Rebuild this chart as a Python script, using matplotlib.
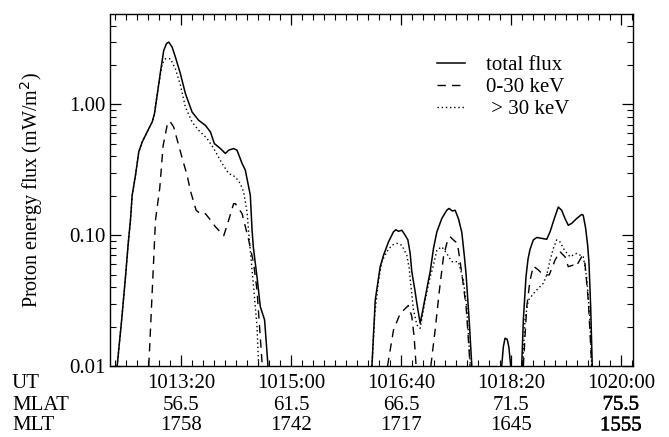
import numpy as np
import matplotlib
matplotlib.use('Agg')
import matplotlib.pyplot as plt
import matplotlib.patheffects as pe
from matplotlib.ticker import FixedLocator, MultipleLocator, LogLocator, NullFormatter

plt.rcParams['font.family'] = ['Liberation Serif', 'DejaVu Serif']
plt.rcParams['lines.scale_dashes'] = False

nan = np.nan

# time in seconds after 10:00:00 UT, nan breaks the curve between events
t_total = [741.5, 745.5, 749.1, 751.5, 753.6, 755.2, 758.2, 761.2, 764.3, 768.8, 773.4,
           775.5, 777.9, 780.9, 783.9, 786.4, 788.5, 791.5, 794.5, 799.1, 803.6, 809.7,
           815.7, 821.8, 826.4, 830.0, 835.5, 840.0, 843.0, 847.5, 850.6, 855.2, 858.2,
           860.3, 862.7, 864.3, 865.5, 868.8, 871.8, 875.7, 878.8, nan,
           973.4, 976.4, 980.9, 983.9, 988.5, 993.0, 995.2, 997.5, 1000.6, 1003.6, 1006.1,
           1008.2, 1009.7, 1012.5, 1014.3, 1017.3, 1020.3, 1024.8, 1026.4, 1029.4, 1032.5,
           1037.0, 1041.5, 1043.6, 1046.6, 1049.1, 1052.1, 1055.2, 1057.6, 1059.1, 1062.1,
           1064.3, nan,
           1091.5, 1093.0, 1094.5, 1096.5, 1098.0, 1099.7, nan,
           1109.7, 1111.2, 1113.6, 1115.5, 1117.3, 1120.3, 1123.4, 1127.9, 1132.5, 1135.5,
           1139.4, 1143.0, 1146.1, 1149.1, 1152.1, 1155.2, 1159.7, 1164.3, 1165.7, 1167.9,
           1169.7, 1170.9, 1172.5, 1173.9]
f_total = [0.010, 0.022, 0.048, 0.085, 0.130, 0.202, 0.287, 0.433, 0.515, 0.615, 0.733,
           0.849, 1.17, 1.76, 2.58, 2.91, 2.99, 2.74, 2.30, 1.71, 1.21, 0.873,
           0.755, 0.691, 0.615, 0.501, 0.459, 0.421, 0.446, 0.459, 0.446, 0.353, 0.313,
           0.255, 0.202, 0.109, 0.080, 0.048, 0.0284, 0.0225, 0.010, nan,
           0.010, 0.0318, 0.0574, 0.070, 0.089, 0.106, 0.110, 0.107, 0.109, 0.100, 0.092,
           0.0725, 0.0525, 0.038, 0.030, 0.0212, 0.0284, 0.045, 0.0525, 0.0791, 0.106,
           0.134, 0.155, 0.160, 0.153, 0.155, 0.134, 0.105, 0.068, 0.050, 0.021,
           0.010, nan,
           0.010, 0.014, 0.0163, 0.016, 0.014, 0.010, nan,
           0.010, 0.0225, 0.048, 0.066, 0.078, 0.092, 0.096, 0.0945, 0.093, 0.106,
           0.134, 0.164, 0.155, 0.134, 0.119, 0.123, 0.134, 0.144, 0.142, 0.113,
           0.0838, 0.0627, 0.028, 0.010]

t_low = [770.3, 776.4, 780.3, 783.4, 787.0, 789.4, 793.0, 797.5, 802.1, 805.2, 808.2,
         813.4, 817.5, 821.8, 826.0, 830.9, 838.5, 843.0, 847.5, 849.1, 855.2, 861.2,
         865.7, 868.8, 873.6, nan,
         987.6, 993.0, 999.1, 1006.6, 1009.7, 1011.8, 1013.6, nan,
         1027.0, 1030.9, 1034.8, 1038.5, 1041.5, 1044.5, 1047.5, 1051.2, 1055.2, 1059.1,
         1061.2, 1062.7, nan,
         1111.2, 1114.3, 1117.3, 1120.3, 1124.8, 1129.4, 1134.8, 1140.0, 1144.5, 1146.1,
         1149.1, 1152.1, 1156.6, 1159.1, 1164.3, 1167.3, 1170.3, 1172.5, 1173.4]
f_low = [0.010, 0.130, 0.230, 0.486, 0.690, 0.745, 0.670, 0.486, 0.352, 0.287, 0.218,
         0.155, 0.145, 0.146, 0.132, 0.116, 0.099, 0.130, 0.174, 0.174, 0.146, 0.092,
         0.061, 0.038, 0.010, nan,
         0.010, 0.0188, 0.0252, 0.029, 0.0239, 0.0167, 0.010, nan,
         0.010, 0.0188, 0.0379, 0.068, 0.0866, 0.0973, 0.092, 0.0866, 0.051, 0.0284,
         0.0158, 0.010, nan,
         0.010, 0.0284, 0.0452, 0.058, 0.0542, 0.0497, 0.0497, 0.0643, 0.075, 0.0725,
         0.0684, 0.0574, 0.059, 0.0574, 0.0684, 0.0606, 0.0318, 0.0141, 0.010]

t_high = [741.5, 745.5, 749.1, 751.5, 753.6, 755.2, 758.2, 761.2, 764.3, 768.8, 773.4,
          775.5, 777.9, 780.9, 782.5, 785.5, 790.0, 794.5, 799.1, 803.6, 809.7, 815.7,
          823.4, 829.4, 837.0, 843.0, 849.1, 853.6, 856.6, 859.7, 861.8, 865.7, 868.8,
          870.3, nan,
          973.4, 976.0, 979.4, 982.4, 987.0, 991.5, 996.1, 1000.6, 1005.2, 1007.3, 1009.0,
          1011.2, 1014.3, 1017.3, 1021.8, 1026.4, 1029.4, 1032.5, 1037.0, 1041.5, 1046.1,
          1052.1, 1056.6, 1059.7, 1062.1, 1063.0, nan,
          1110.6, 1112.7, 1115.7, 1121.8, 1129.4, 1132.5, 1135.5, 1138.5, 1141.5, 1144.5,
          1148.5, 1153.6, 1159.7, 1165.7, 1168.8, 1171.8, 1173.4]
f_high = [0.010, 0.022, 0.048, 0.085, 0.130, 0.202, 0.287, 0.433, 0.515, 0.615, 0.733,
          0.849, 1.20, 1.70, 2.04, 2.23, 2.23, 1.87, 1.40, 0.954, 0.733, 0.633,
          0.547, 0.459, 0.353, 0.296, 0.279, 0.248, 0.214, 0.151, 0.092, 0.040, 0.020,
          0.010, nan,
          0.010, 0.025, 0.0452, 0.0627, 0.0749, 0.0838, 0.0866, 0.0838, 0.070, 0.0557, 0.040,
          0.0268, 0.0206, 0.0194, 0.0318, 0.048, 0.0591, 0.077, 0.0814, 0.0725, 0.0627,
          0.0627, 0.0452, 0.0284, 0.0133, 0.010, nan,
          0.010, 0.0225, 0.0318, 0.0369, 0.0429, 0.0497, 0.0643, 0.0791, 0.092, 0.089,
          0.077, 0.0684, 0.0725, 0.0684, 0.048, 0.0225, 0.010]

ut_ticks = [800, 900, 1000, 1100, 1200]
ut_labels = ['1013:20', '1015:00', '1016:40', '1018:20', '1020:00']
mlat_labels = ['56.5', '61.5', '66.5', '71.5', '75.5']
mlt_labels = ['1758', '1742', '1717', '1645', '1555']

fig = plt.figure(figsize=(6.69, 4.37), dpi=100)
ax = fig.add_axes([110/669, 1-366/437, 523/669, 352/437])

ax.plot(t_total, f_total, color='black', lw=1.1, label='total flux')
ax.plot(t_low, f_low, color='black', lw=1.0, linestyle=(0, (6, 4.5)), label='0-30 keV')
ax.plot(t_high, f_high, color='black', lw=1.0, linestyle=(0, (1, 2)), label=' > 30 keV')

ax.set_yscale('log')
ax.set_xlim(735, 1211)
ax.set_ylim(0.01, 4.9)

ax.yaxis.set_major_locator(FixedLocator([0.01, 0.1, 1.0]))
ax.yaxis.set_minor_locator(LogLocator(base=10, subs=np.arange(2, 10)))
ax.yaxis.set_minor_formatter(NullFormatter())
ax.set_yticklabels(['0.01', '0.10', '1.00'])

ax.xaxis.set_major_locator(FixedLocator(ut_ticks))
ax.xaxis.set_minor_locator(MultipleLocator(10))
ax.set_xticklabels([])

ax.tick_params(which='both', direction='in', top=True, right=True, colors='black')
ax.tick_params(which='major', length=8, width=0.9, labelsize=15)
ax.tick_params(which='minor', length=4, width=0.8)
for s in ax.spines.values():
    s.set_linewidth(1.0)

ax.set_ylabel('Proton energy flux (mW/m$^2$)', fontsize=14.5)
ax.yaxis.set_label_coords(-0.124, 0.5)

leg = ax.legend(loc='upper left', bbox_to_anchor=(0.590, 0.935), frameon=False,
                fontsize=15, handlelength=1.35, handletextpad=1.0, labelspacing=0.12)

tr = ax.get_xaxis_transform()
rows = [(-0.051, ut_labels, 'UT'), (-0.111, mlat_labels, 'MLAT'), (-0.170, mlt_labels, 'MLT')]
for y, labels, name in rows:
    fig.text(12/669, 1-(366 - y*352)/437, name, fontsize=15, va='center', ha='left')
    for i, (x, lab) in enumerate(zip(ut_ticks, labels)):
        t = ax.text(x, y, lab, transform=tr, fontsize=15, ha='center', va='center')
        if i == len(labels)-1 and name != 'UT':
            t.set_path_effects([pe.withStroke(linewidth=0.35, foreground='black')])

fig.savefig('out.png', dpi=100)
